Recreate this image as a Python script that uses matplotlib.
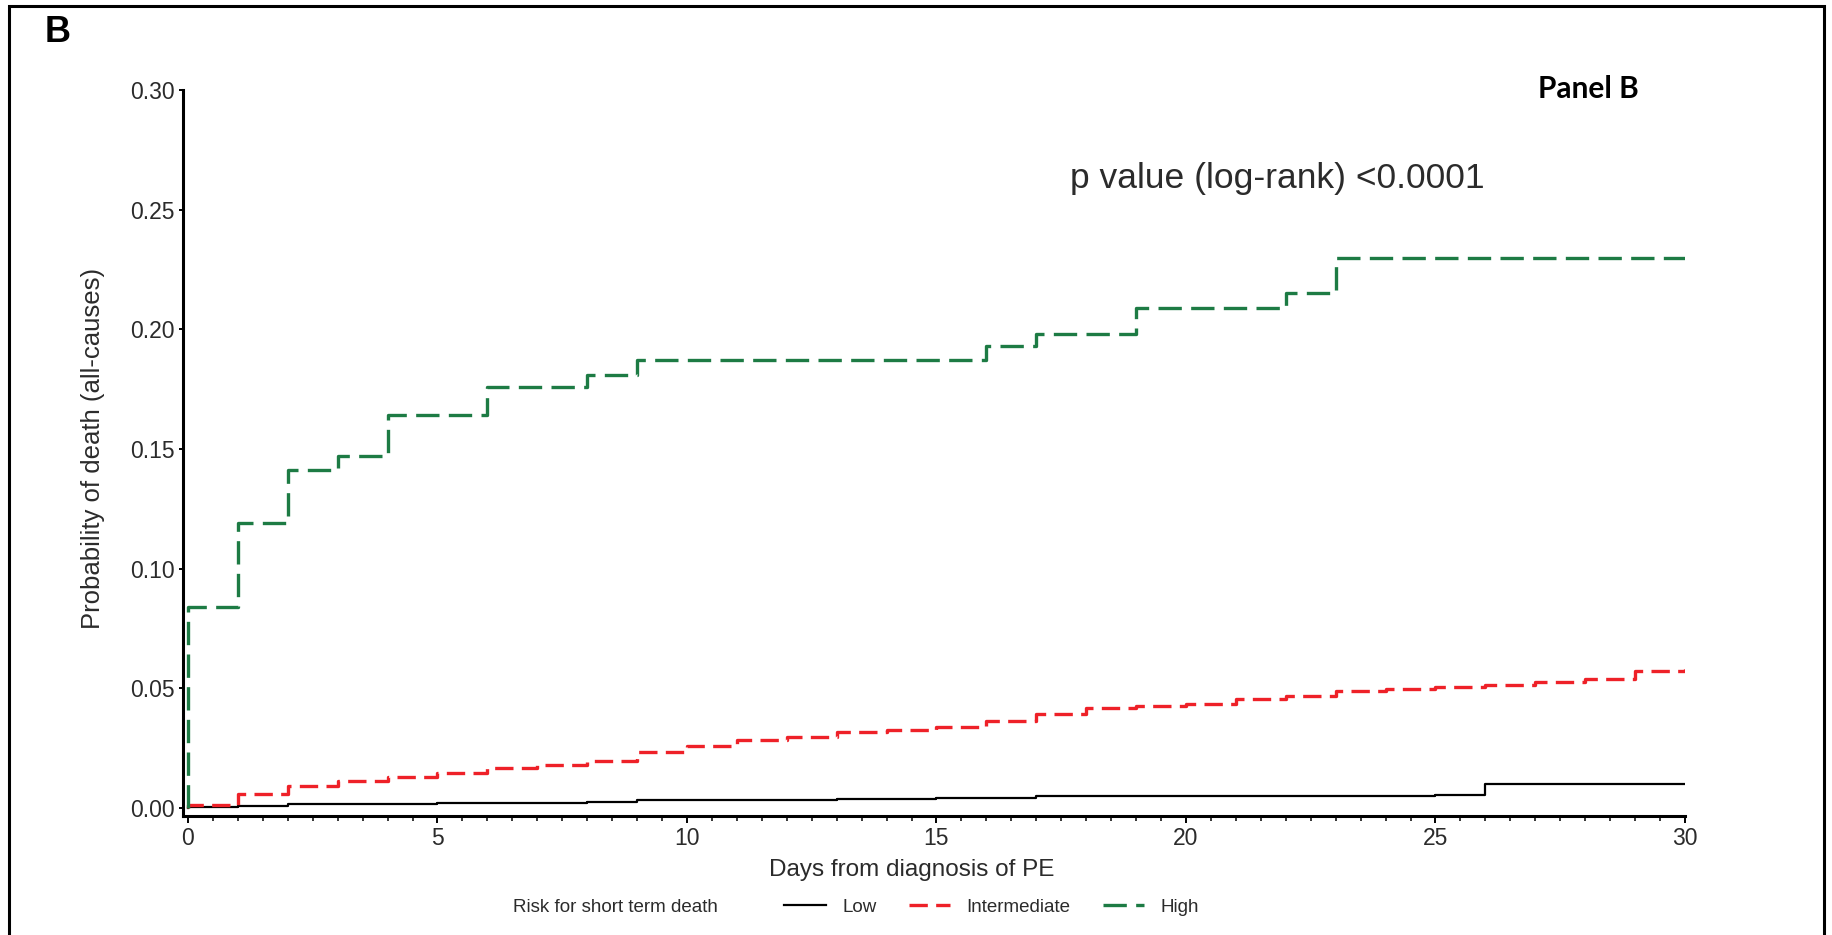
import matplotlib
matplotlib.use('Agg')
import matplotlib.pyplot as plt
from matplotlib.patches import Rectangle
from matplotlib.ticker import MultipleLocator, FormatStrFormatter

# Kaplan-Meier style cumulative probability of death
green_days = [0, 0, 1, 2, 3, 4, 6, 8, 9, 16, 17, 19, 22, 23, 30]
green_prob = [0, 0.084, 0.119, 0.141, 0.147, 0.164, 0.176, 0.181, 0.187,
              0.193, 0.198, 0.209, 0.215, 0.230, 0.230]

red_days = [0, 0] + list(range(1, 31))
red_prob = [0, 0.0013, 0.0057, 0.0092, 0.0113, 0.0131, 0.0145, 0.0166, 0.0180,
            0.0197, 0.0232, 0.0257, 0.0282, 0.0296, 0.0316, 0.0326, 0.0336,
            0.0362, 0.0392, 0.0418, 0.0425, 0.0432, 0.0456, 0.0466, 0.0488,
            0.0495, 0.0506, 0.0512, 0.0525, 0.0539, 0.0572, 0.0580]

black_days = [0, 0, 1, 2, 5, 8, 9, 13, 15, 17, 25, 26, 30]
black_prob = [0, 0.0003, 0.0008, 0.0015, 0.0020, 0.0024, 0.0032, 0.0036,
              0.0040, 0.0050, 0.0055, 0.0099, 0.0099]

labels = ['Low', 'Intermediate', 'High']
x_ticks = [0, 5, 10, 15, 20, 25, 30]

W, H = 1832, 935
plt.rcParams['font.family'] = ['Liberation Sans', 'DejaVu Sans']
txt = '#2b2b2b'

fig = plt.figure(figsize=(W / 100, H / 100), dpi=100)
ax = fig.add_axes([183 / W, 1 - 816 / H, (1685 - 183) / W, (816 - 90) / H])

ax.step(black_days, black_prob, where='post', color='black', lw=1.6, label=labels[0])
ax.step(red_days, red_prob, where='post', color='#ee2128', lw=2.4,
        dashes=(5.5, 2.5), label=labels[1])
ax.step(green_days, green_prob, where='post', color='#1d7b44', lw=2.4,
        dashes=(7, 2.8), label=labels[2])

ax.set_xlim(-0.1, 30)
ax.set_ylim(-0.0034, 0.30)
ax.set_xticks(x_ticks)
ax.xaxis.set_minor_locator(MultipleLocator(0.5))
ax.yaxis.set_major_locator(MultipleLocator(0.05))
ax.yaxis.set_major_formatter(FormatStrFormatter('%.2f'))

for s in ['top', 'right']:
    ax.spines[s].set_visible(False)
for s in ['left', 'bottom']:
    ax.spines[s].set_linewidth(2.2)
ax.tick_params(axis='both', which='major', direction='out', length=5, width=1.4,
               labelsize=16.5, labelcolor=txt, pad=3)
ax.tick_params(axis='x', which='minor', direction='out', length=3.5, width=1.1)
ax.tick_params(axis='y', which='major', length=3)

fig.text(93 / W, 1 - 448 / H, 'Probability of death (all-causes)', rotation=90,
         ha='center', va='center', fontsize=18.5, color=txt)
fig.text(912 / W, 1 - 870 / H, 'Days from diagnosis of PE', ha='center',
         va='center', fontsize=17.5, color=txt)

fig.text(1277 / W, 1 - 188 / H, 'p value (log-rank) <0.0001', ha='center',
         va='baseline', fontsize=25.5, color=txt)
fig.text(1588 / W, 1 - 89 / H, 'Panel B', ha='center', va='center',
         fontsize=21.5, fontweight='bold', family=['Lato', 'DejaVu Sans'])
fig.text(45 / W, 1 - 33 / H, 'B', ha='left', va='center', fontsize=26,
         fontweight='bold', family=['Liberation Sans', 'DejaVu Sans'])

# legend row
fig.text(513 / W, 1 - 907 / H, 'Risk for short term death', ha='left',
         va='center', fontsize=13.5, color=txt)
fig.legend(loc='center left', bbox_to_anchor=(775 / W, 1 - 907 / H), ncol=3,
           frameon=False, fontsize=13.5, handlelength=2.2, handletextpad=0.9,
           columnspacing=1.7, borderpad=0, labelcolor=txt)

# outer frame
fig.patches.append(Rectangle((9 / W, -0.05), (1824 - 9) / W, 1.05 - 6 / H,
                             transform=fig.transFigure, fill=False,
                             edgecolor='black', lw=2.2))

fig.savefig('out.png', dpi=100)
